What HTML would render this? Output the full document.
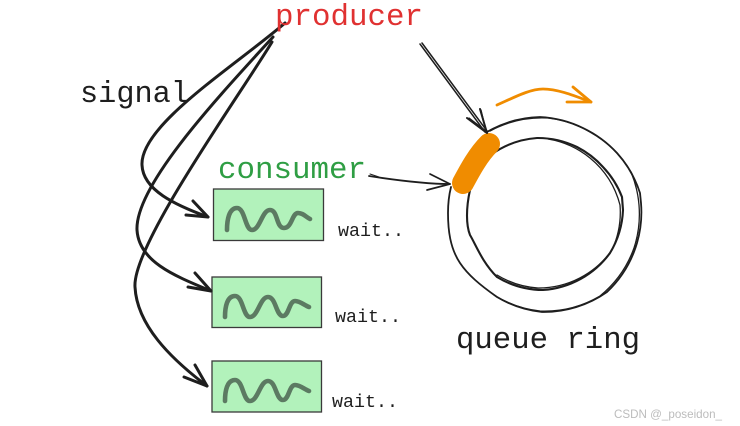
<!DOCTYPE html>
<html>
<head>
<meta charset="utf-8">
<style>
html,body{margin:0;padding:0;background:#fff;}
svg{display:block;}
text{font-family:"Liberation Mono","DejaVu Sans Mono",monospace;fill:#1e1e1e;}
</style>
</head>
<body>
<svg width="740" height="426" viewBox="0 0 740 426" xmlns="http://www.w3.org/2000/svg">
<rect width="740" height="426" fill="#fff"/>

<!-- boxes -->
<g fill="#b2f2bb" stroke="#3a3a3a" stroke-width="1.3">
<rect x="213.5" y="189" width="110" height="51.5"/>
<rect x="212" y="277" width="109.5" height="50.5"/>
<rect x="212" y="361" width="109.5" height="51"/>
</g>
<g fill="none" stroke="#5c7a62" stroke-width="4.6" stroke-linecap="round" stroke-linejoin="round">
<path d="M227 230C227 220 229 208 237 208C245 208 245 230 252 230C260 230 262 210 270 210C278 210 276 228 284 228C292 228 292 213 298 213C303 213 306 217 310 219"/>
<path d="M225 317C225 307 227 296 235 296C243 296 243 317 250 317C258 317 260 297 268 297C276 297 276 316 283 316C289 316 289 301 295 301C300 301 304 305 309 307"/>
<path d="M225 401C225 391 227 380 235 380C243 380 243 401 250 401C258 401 260 381 268 381C276 381 276 400 283 400C289 400 289 385 295 385C300 385 304 389 309 391"/>
</g>

<!-- signal arrows -->
<g fill="none" stroke="#1e1e1e" stroke-width="3" stroke-linecap="round" stroke-linejoin="round">
<path d="M285 23C235 66 140 125 142 165C143 190 175 205 208 217"/>
<path d="M193 201L208 217L186 215"/>
<path d="M273 37C220 95 135 185 137 230C139 262 175 276 211 291"/>
<path d="M195 273L211 291L188 287"/>
<path d="M272 42C240 95 132 245 135 287C137 325 170 358 207 386"/>
<path d="M195 365L207 386L184 377"/>
</g>

<!-- ring -->
<g fill="none" stroke="#1e1e1e" stroke-linecap="round" stroke-linejoin="round">
<path stroke-width="1.8" d="M487 132A110 110 0 0 1 540 117A110 110 0 0 1 583 128A110 110 0 0 1 617 153A110 110 0 0 1 640 193L641 203A110 110 0 0 1 637 243A110 110 0 0 1 607 292A110 110 0 0 1 542 312A110 110 0 0 1 497 297C480 285 468 275 460 263C450 248 448 230 448 213C448 203 449 195 451 187"/>
<path stroke-width="1.3" d="M490 131A110 110 0 0 1 548 118A110 110 0 0 1 590 132A110 110 0 0 1 631 172A110 110 0 0 1 639 205A110 110 0 0 1 634 248A110 110 0 0 1 600 296A110 110 0 0 1 540 311A110 110 0 0 1 494 295"/>
<path stroke-width="2.1" d="M492 154A90 90 0 0 1 537 138A90 90 0 0 1 577 147A90 90 0 0 1 603 167A90 90 0 0 1 622 197L623 210A90 90 0 0 1 610 253A90 90 0 0 1 543 290A90 90 0 0 1 497 277C482 262 476 245 470 235C466 225 466 208 470 190"/>
<path stroke-width="1.3" d="M548 139A90 90 0 0 1 590 158A90 90 0 0 1 620 205A90 90 0 0 1 612 250A90 90 0 0 1 538 288A90 90 0 0 1 497 275"/>
</g>

<!-- orange marker -->
<path d="M489 144C478 155 470 170 463 183" fill="none" stroke="#f08c00" stroke-width="22" stroke-linecap="round"/>
<g fill="none" stroke="#f08c00" stroke-width="2.8" stroke-linecap="round" stroke-linejoin="round">
<path d="M497 105C515 97 530 89 543 89C558 89 575 96 591 102"/>
<path d="M573 87L591 102L567 102"/>
</g>

<!-- producer arrow -->
<g fill="none" stroke="#1e1e1e" stroke-linecap="round" stroke-linejoin="round">
<path stroke-width="1.5" d="M420 44L485 132"/>
<path stroke-width="1.5" d="M422 43L487 131"/>
<path stroke-width="2" d="M480 109L487 133L467 118"/>
<path stroke-width="1.3" d="M481 110L486 131L469 118"/>
<!-- consumer arrow -->
<path stroke-width="1.8" d="M369 176C395 180 425 184 450 184"/>
<path stroke-width="1.7" d="M430 174L450 184L427 190"/>
<path stroke-width="1" d="M370 174L379 177"/>
</g>

<!-- labels -->
<text x="275" y="25" font-size="31" textLength="148" lengthAdjust="spacingAndGlyphs" style="fill:#e03131">producer</text>
<text x="80" y="102" font-size="31" textLength="109" lengthAdjust="spacingAndGlyphs">signal</text>
<text x="218" y="178" font-size="31" textLength="148" lengthAdjust="spacingAndGlyphs" style="fill:#2f9e44">consumer</text>
<text x="338" y="236" font-size="18.5" textLength="66" lengthAdjust="spacingAndGlyphs">wait..</text>
<text x="335" y="322" font-size="18.5" textLength="66" lengthAdjust="spacingAndGlyphs">wait..</text>
<text x="332" y="407" font-size="18.5" textLength="66" lengthAdjust="spacingAndGlyphs">wait..</text>
<text x="456" y="348" font-size="31" textLength="184" lengthAdjust="spacingAndGlyphs">queue ring</text>
<text x="614" y="418" font-size="12" textLength="108" lengthAdjust="spacingAndGlyphs" style="fill:#bcbcbc;font-family:'Liberation Sans',sans-serif">CSDN @_poseidon_</text>
</svg>
</body>
</html>
